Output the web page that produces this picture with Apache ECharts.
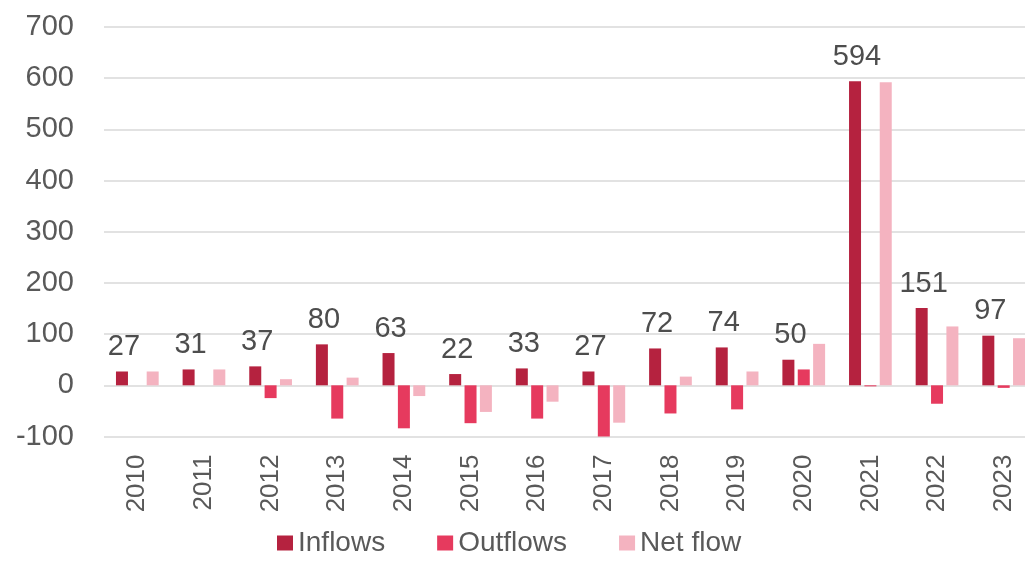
<!DOCTYPE html>
<html>
<head>
<meta charset="utf-8">
<script src="https://cdn.jsdelivr.net/npm/echarts@6/dist/echarts.min.js"></script>
<style>html,body{margin:0;padding:0;background:#fff;overflow:hidden;width:1025px;height:564px;}#c{width:1040px;height:564px;}</style>
</head>
<body>
<div id="c"></div>
<script>
var years = ['2010','2011','2012','2013','2014','2015','2016','2017','2018','2019','2020','2021','2022','2023'];
var inflows = [27, 31, 37, 80, 63, 22, 33, 27, 72, 74, 50, 594, 151, 97];
var outflows = [0, 0, -25, -65, -84, -74, -65, -100, -55, -47, 31, -2, -36, -5];
var netflow = [27, 31, 12, 15, -21, -52, -32, -73, 17, 27, 81, 592, 115, 92];
var yTicks = [-100, 0, 100, 200, 300, 400, 500, 600, 700];

var FONT = '"Liberation Sans", Arial, sans-serif';
var chart = echarts.init(document.getElementById('c'), null, {renderer: 'canvas'});
chart.setOption({
  animation: false,
  backgroundColor: '#ffffff',
  textStyle: {fontFamily: FONT},
  grid: {left: 104, right: 3, top: 27, bottom: 127.5, containLabel: false},
  legend: {
    left: 272, bottom: 2,
    itemWidth: 16, itemHeight: 15, itemGap: 52,
    icon: 'rect',
    textStyle: {fontFamily: FONT, fontSize: 28, color: '#595959'},
    data: ['Inflows', 'Outflows', 'Net flow']
  },
  xAxis: {
    type: 'category',
    data: years,
    axisLine: {show: false, onZero: false},
    axisTick: {show: false},
    axisLabel: {rotate: 90, margin: 18, fontSize: 26, color: '#595959', fontFamily: FONT}
  },
  yAxis: {
    type: 'value',
    min: yTicks[0], max: yTicks[yTicks.length - 1], interval: 100,
    axisLine: {show: false},
    axisTick: {show: false},
    axisLabel: {margin: 30, fontSize: 29, color: '#595959', fontFamily: FONT},
    splitLine: {lineStyle: {color: '#d9d9d9', width: 1.5}}
  },
  series: [
    {
      name: 'Inflows', type: 'bar', data: inflows,
      barWidth: 12, barGap: '28%',
      itemStyle: {color: '#b5223f'},
      label: {show: true, position: 'top', distance: 10, fontSize: 29, color: '#4d4d4d', fontFamily: FONT, offset: [2, 0]}
    },
    {
      name: 'Outflows', type: 'bar', data: outflows,
      barWidth: 12, barGap: '28%',
      itemStyle: {color: '#e63a5e'}
    },
    {
      name: 'Net flow', type: 'bar', data: netflow,
      barWidth: 12, barGap: '28%',
      itemStyle: {color: '#f4b3c0'}
    }
  ]
});
</script>
</body>
</html>
